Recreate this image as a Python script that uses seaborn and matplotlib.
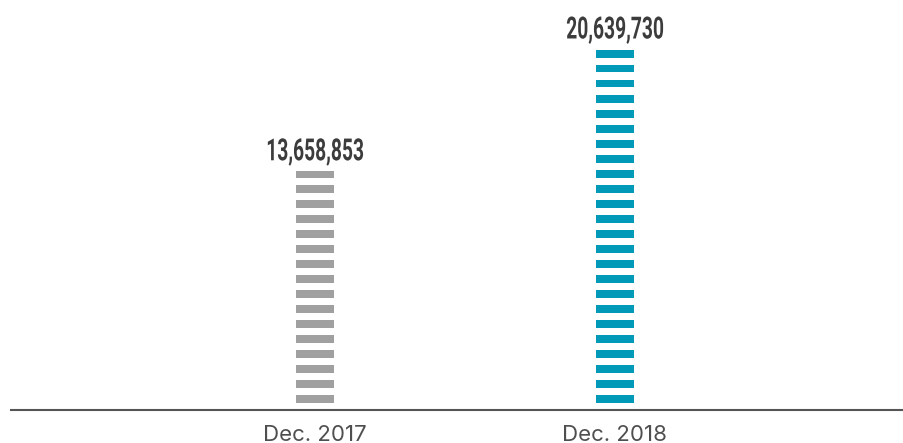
import numpy as np
import pandas as pd
import matplotlib
matplotlib.use("Agg")
import matplotlib.pyplot as plt
from matplotlib import font_manager
from matplotlib.patheffects import AbstractPathEffect
from matplotlib.transforms import Affine2D
import seaborn as sns

# --- data -------------------------------------------------------------
months = ["Dec. 2017", "Dec. 2018"]
totals = [13658853, 20639730]
bar_colors = ["#a0a0a0", "#0099b7"]

# --- style ------------------------------------------------------------
sns.set_theme(style="white")
installed = {f.name for f in font_manager.fontManager.ttflist}


def first_font(candidates):
    for name in candidates:
        if name in installed:
            return name
    return "DejaVu Sans"


label_font = first_font(["Inter", "Lato", "Noto Sans", "DejaVu Sans"])
value_font = first_font(["Liberation Sans Narrow", "Roboto", "DejaVu Sans"])
plt.rcParams["font.family"] = [label_font, "DejaVu Sans"]

W, H, DPI = 904, 443, 100
fig = plt.figure(figsize=(W / DPI, H / DPI), dpi=DPI)
fig.patch.set_facecolor("white")

# axes geometry in pixels
ax_left, ax_bottom, ax_top = 11, 33.5, 443
ax_w = W - ax_left
ax_h = ax_top - ax_bottom
ax = fig.add_axes([ax_left / W, ax_bottom / H, ax_w / W, ax_h / H])
ax.set_facecolor("white")

px_per_unit = 17.45e-6          # vertical pixels per customer
px_per_cat = 300.0              # horizontal pixels between categories
first_cat_px = 304.0            # first category centre from axes left edge
ymax = ax_h / px_per_unit

df = pd.DataFrame({"month": months, "total": totals})
sns.barplot(data=df, x="month", y="total", hue="month", palette=bar_colors,
            saturation=1, width=38 / px_per_cat, legend=False, ax=ax,
            zorder=2, linewidth=0)

ax.set_ylim(0, ymax)
x0 = -first_cat_px / px_per_cat
ax.set_xlim(x0, x0 + ax_w / px_per_cat)

# white gaps that break the bars into horizontal dashes
period_px, gap_px = 15.0, 7.0
n_stripes = int(max(totals) * px_per_unit / period_px) + 2
for k in range(n_stripes):
    lo = k * period_px / px_per_unit
    hi = (k * period_px + gap_px) / px_per_unit
    ax.axhspan(lo, hi, color="white", lw=0, zorder=2.5)


class Squeeze(AbstractPathEffect):
    """Narrows glyphs horizontally about a fixed data x position."""

    def __init__(self, axes, xdata, factor):
        super().__init__()
        self.axes, self.xdata, self.factor = axes, xdata, factor

    def draw_path(self, renderer, gc, tpath, affine, rgbFace=None):
        cx = self.axes.transData.transform((self.xdata, 0))[0]
        squeeze = Affine2D().translate(-cx, 0).scale(self.factor, 1).translate(cx, 0)
        renderer.draw_path(gc, tpath, affine + squeeze, rgbFace)


for i, v in enumerate(totals):
    ax.annotate(f"{v:,}", xy=(i, v), xytext=(0, 3.5), textcoords="offset points",
                ha="center", va="bottom", fontsize=22, fontweight="bold",
                family=[value_font, "DejaVu Sans"], color="#3c3c3c", zorder=4,
                path_effects=[Squeeze(ax, i, 0.63)])

# axis styling
for side in ["left", "right", "top"]:
    ax.spines[side].set_visible(False)
ax.spines["bottom"].set_color("#555555")
ax.spines["bottom"].set_linewidth(1.5)
ax.spines["bottom"].set_zorder(5)
ax.set_yticks([])
ax.set_xlabel("")
ax.set_ylabel("")
ax.tick_params(axis="x", length=0, pad=11, labelsize=16, labelcolor="#4f4f4f")

fig.savefig("out.png", dpi=DPI, facecolor="white")
